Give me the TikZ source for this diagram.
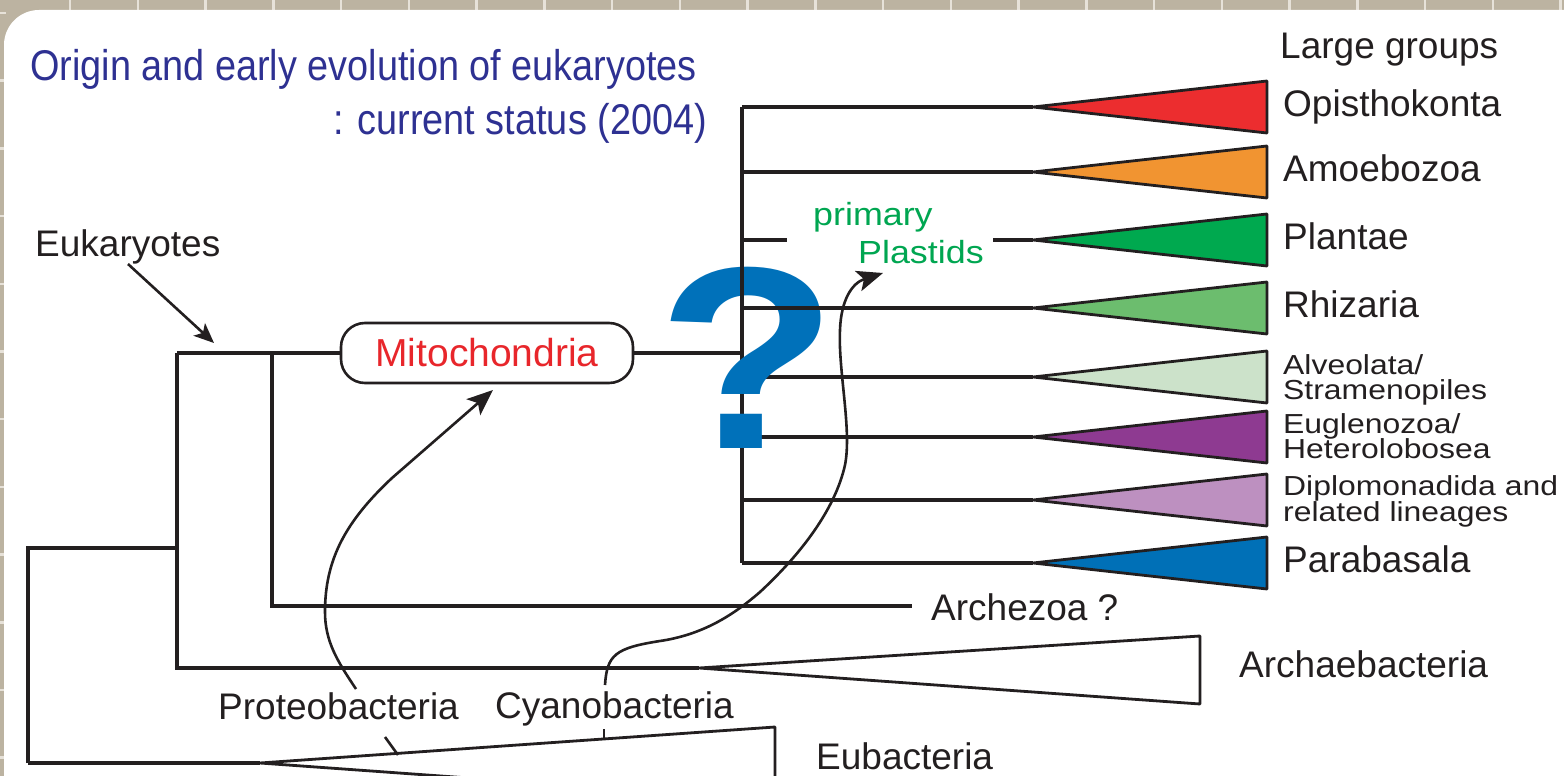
\documentclass[tikz,border=0pt]{standalone}
\usepackage{fontspec}
\usepackage{graphicx}
\setmainfont{Liberation Sans}
\newfontfamily\titlefont[FakeStretch=0.88]{Liberation Sans}
\newfontfamily\wideA[FakeStretch=1.16]{Liberation Sans}
\newfontfamily\wideB[FakeStretch=1.12]{Liberation Sans}
\usetikzlibrary{arrows.meta,calc}
\definecolor{ink}{HTML}{231F20}
\definecolor{bgc}{HTML}{BCB3A1}
\definecolor{gridc}{HTML}{E7E2D9}
\definecolor{titleblue}{HTML}{2E3192}
\definecolor{mitored}{HTML}{E8262B}
\definecolor{plgreen}{HTML}{00A651}
\definecolor{qblue}{HTML}{0071BA}
\definecolor{copi}{HTML}{EC2D2F}
\definecolor{camo}{HTML}{F19431}
\definecolor{cpla}{HTML}{00A94F}
\definecolor{crhi}{HTML}{6CBD6E}
\definecolor{calv}{HTML}{CCE2CA}
\definecolor{ceug}{HTML}{8E3A91}
\definecolor{cdip}{HTML}{BD90C0}
\definecolor{cpar}{HTML}{0070B7}
\tikzset{
  tree/.style={draw=ink, line width=3.4pt},
  curvearrow/.style={draw=ink, line width=2.6pt},
  tri/.style={draw=ink, line width=2.8pt, line join=bevel},
  lbl/.style={anchor=base west, inner sep=0pt, text=ink, font=\fontsize{37}{44}\selectfont},
  smalllbl/.style={anchor=base west, inner sep=0pt, text=ink, font=\wideA\fontsize{27.5}{30}\selectfont},
  greenlbl/.style={anchor=base west, inner sep=0pt, text=plgreen, font=\wideB\fontsize{32}{36}\selectfont},
  titlelbl/.style={anchor=base west, inner sep=0pt, text=titleblue, font=\titlefont\fontsize{43}{50}\selectfont},
  bigtip/.style={-{Stealth[length=26pt,width=21pt,inset=6pt]}},
  smalltip/.style={-{Stealth[length=20pt,width=17pt,inset=5pt]}}
}
\begin{document}
\begin{tikzpicture}[x=1pt,y=-1pt]
\useasboundingbox (0,0) rectangle (1564,776);
\clip (0,0) rectangle (1564,776);
% background
\fill[bgc] (0,0) rectangle (1564,776);
\foreach \i in {0,...,22} \draw[gridc, line width=2.5pt] ({70+67.75*\i},0) -- ++(0,12);
\foreach \j in {0,...,11} \draw[gridc, line width=2.5pt] (0,{13+67.7*\j}) -- ++(6,0);
\fill[white, rounded corners=35pt] (4,10) rectangle (1700,900);

% title
\node[titlelbl] (title1) at (30,81) {Origin and early evolution of eukaryotes};
\node[titlelbl] (title2) at (333,134) {:\hspace{14pt}current status (2004)};

% labels
\node[lbl] (large) at (1280,59) {Large groups};
\node[lbl] (euk) at (35,256) {Eukaryotes};
\node[lbl] (archez) at (931,620) {Archezoa ?};
\node[lbl] (archae) at (1239,677) {Archaebacteria};
\node[lbl] (proteo) at (218,719) {Proteobacteria};
\node[lbl] (cyano) at (495,718) {Cyanobacteria};
\node[lbl] (eubac) at (816,769) {Eubacteria};
\node[greenlbl] (prim) at (813,225) {primary};
\node[greenlbl] (plast) at (858,263) {Plastids};

% coordinates of the tree
\coordinate (r0) at (28,548);
\coordinate (r1) at (28,763);
\coordinate (eubA) at (260,763);
\coordinate (e0) at (177,548);
\coordinate (e1) at (177,353);
\coordinate (e2) at (177,668);
\coordinate (archA) at (699,668);
\coordinate (z0) at (272,353);
\coordinate (z1) at (272,606);
\coordinate (z2) at (912,606);
\coordinate (c0) at (742,353);
\coordinate (ctop) at (742,107);
\coordinate (cbot) at (742,563);

% Eubacteria and Archaebacteria triangles
\draw[tri, fill=white] (eubA) -- (775,727) -- (775,800) -- cycle;
\draw[tri, fill=white] (archA) -- (1200,636) -- (1200,704) -- cycle;

% mitochondria box
\node[draw=ink, line width=2.6pt, rounded corners=24pt, minimum width=292pt, minimum height=60pt, inner sep=0pt, text=mitored, font=\fontsize{39}{44}\selectfont] (mito) at (487,353) {Mitochondria};

% tree lines
\draw[tree] (r1) -- (r0) -- (e0);
\draw[tree] (r1) -- (eubA);
\draw[tree] (e1) -- (e2) -- (archA);
\draw[tree] (e1) -- (mito.west);
\draw[tree] (z0) -- (z1) -- (z2);
\draw[tree] (mito.east) -- (c0);
\draw[tree] (ctop) -- (cbot);

% crown groups
\foreach \y/\c/\n in {107/copi/opi, 172/camo/amo, 240/cpla/pla, 308/crhi/rhi, 377/calv/alv, 437/ceug/eug, 500/cdip/dip, 563/cpar/par}{
  \coordinate (\n A) at (1033,\y);
  \draw[tri, fill=\c] (\n A) -- (1267,\y-26) -- (1267,\y+26) -- cycle;
}
\coordinate (opiB) at (742,107);
\coordinate (amoB) at (742,172);
\coordinate (plaB) at (742,240);
\coordinate (plaC) at (787,240);
\coordinate (plaD) at (993,240);
\coordinate (rhiB) at (742,308);
\coordinate (alvB) at (742,377);
\coordinate (eugB) at (742,437);
\coordinate (dipB) at (742,500);
\coordinate (parB) at (742,563);
\draw[tree] (opiB) -- (opiA);
\draw[tree] (amoB) -- (amoA);
\draw[tree] (plaB) -- (plaC);
\draw[tree] (plaD) -- (plaA);
\draw[tree] (alvB) -- (alvA);
\draw[tree] (eugB) -- (eugA);
\draw[tree] (dipB) -- (dipA);
\draw[tree] (parB) -- (parA);

% group labels
\node[lbl] (opiL) at (1283,116) {Opisthokonta};
\node[lbl] (amoL) at (1283,181) {Amoebozoa};
\node[lbl] (plaL) at (1283,249) {Plantae};
\node[lbl] (rhiL) at (1283,317) {Rhizaria};
\node[smalllbl] (alvL1) at (1283,374) {Alveolata/};
\node[smalllbl] (alvL2) at (1283,399) {Stramenopiles};
\node[smalllbl] (eugL1) at (1283,433) {Euglenozoa/};
\node[smalllbl] (eugL2) at (1283,458) {Heterolobosea};
\node[smalllbl] (dipL1) at (1283,495) {Diplomonadida and};
\node[smalllbl] (dipL2) at (1283,521) {related lineages};
\node[lbl] (parL) at (1283,572) {Parabasala};

% big question mark
\node[inner sep=0pt, text=qblue] (qm) at (748,357.5) {\resizebox{180pt}{181pt}{\bfseries ?}};
% lines lying over the question mark
\coordinate (cmid) at (742,330);
\draw[tree] (ctop) -- (cmid);
\draw[tree] (rhiB) -- (rhiA);

% Eukaryotes arrow
\coordinate (eukS) at (128,264);
\coordinate (eukT) at (214,343);
\draw[curvearrow, smalltip] (eukS) -- (eukT);

% Proteobacteria -> Mitochondria
\coordinate (pS) at (356,689);
\coordinate (pT) at (493,390);
\draw[curvearrow, bigtip] (pS) .. controls (338,662) and (325,642) .. (325,612)
   .. controls (325,560) and (345,522) .. (392,478) -- (pT);
\coordinate (pt0) at (385,737);
\coordinate (pt1) at (398,755);
\draw[curvearrow] (pt0) -- (pt1);

% Cyanobacteria -> primary Plastids
\coordinate (cS) at (605,685);
\coordinate (cT) at (883,273);
\draw[curvearrow, bigtip] (cS) .. controls (607,655) and (615,648) .. (660,641)
   .. controls (700,635) and (730,618) .. (760,592)
   .. controls (800,555) and (835,510) .. (845,465)
   .. controls (852,430) and (838,370) .. (840,330)
   .. controls (841,300) and (852,283) .. (cT);
\coordinate (ct0) at (604,729);
\coordinate (ct1) at (604,740);
\draw[curvearrow] (ct0) -- (ct1);
\end{tikzpicture}
\end{document}
